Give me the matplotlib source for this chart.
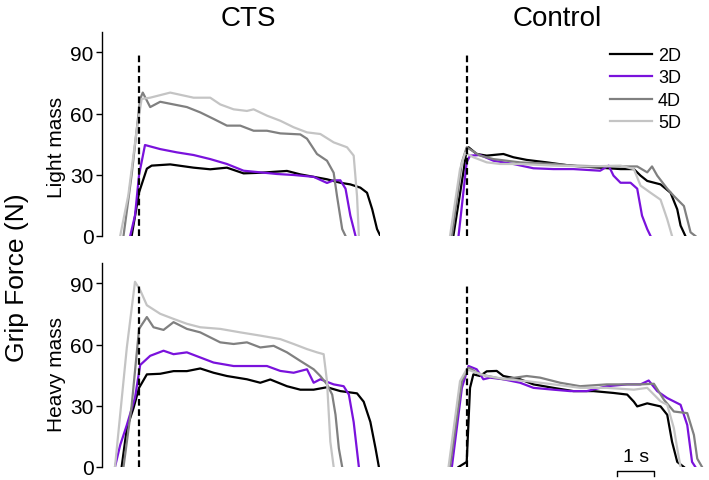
import matplotlib.pyplot as plt

plt.rcParams['font.family'] = ['Liberation Sans', 'DejaVu Sans']

labels = ['2D', '3D', '4D', '5D']
colors = ['#000000', '#7a12dc', '#808080', '#c4c4c4']

# time (s, 0 = dashed marker) and grip force (N)
# CTS, light mass
cts_light_2d_t = [-0.20, 0.00, 0.21, 0.34, 0.84, 1.47, 1.92, 2.37, 2.82, 3.27, 3.99, 4.35, 5.07, 5.43, 5.70, 5.97, 6.15, 6.29, 6.42, 6.51]
cts_light_2d_f = [0, 21.4, 33.0, 34.5, 35.1, 33.5, 32.7, 33.5, 30.7, 31.0, 31.9, 30.2, 27.8, 26.1, 25.3, 23.7, 21.2, 13.1, 3.4, 0]
cts_light_3d_t = [-0.24, -0.11, 0.00, 0.16, 0.57, 1.02, 1.47, 1.92, 2.37, 2.82, 3.27, 3.72, 4.17, 4.71, 5.07, 5.25, 5.43, 5.57, 5.70, 5.84]
cts_light_3d_f = [0, 10.0, 30.0, 44.6, 42.6, 41.0, 39.7, 37.7, 35.3, 32.0, 31.2, 30.4, 29.9, 29.0, 26.0, 27.3, 27.3, 23.2, 10.0, 0]
cts_light_4d_t = [-0.42, -0.20, 0.03, 0.10, 0.30, 0.57, 0.93, 1.29, 1.65, 2.01, 2.37, 2.73, 3.09, 3.45, 3.81, 4.35, 4.53, 4.80, 5.07, 5.25, 5.34, 5.48, 5.57]
cts_light_4d_f = [0, 30.0, 67.2, 70.3, 63.2, 65.8, 64.5, 63.2, 60.6, 57.4, 54.1, 54.1, 51.6, 51.6, 50.3, 49.8, 47.7, 40.2, 36.9, 31.0, 19.6, 3.4, 0]
cts_light_5d_t = [-0.51, -0.29, -0.06, 0.07, 0.30, 0.84, 1.47, 1.92, 2.19, 2.55, 2.91, 3.09, 3.45, 3.81, 4.17, 4.53, 4.89, 5.25, 5.61, 5.79, 5.88, 5.93]
cts_light_5d_f = [0, 20.0, 52.5, 67.2, 67.8, 70.3, 67.8, 67.8, 64.5, 62.1, 61.3, 62.1, 59.0, 56.5, 53.3, 50.8, 50.0, 45.9, 43.5, 39.4, 19.6, 0]

# Control, light mass
ctl_light_2d_t = [-0.37, -0.10, -0.01, 0.04, 0.26, 0.53, 0.98, 1.25, 1.61, 2.15, 2.78, 3.41, 4.14, 4.50, 4.68, 4.86, 5.22, 5.49, 5.67, 5.76, 5.89]
ctl_light_2d_f = [0, 31.2, 42.6, 43.5, 40.2, 39.4, 40.2, 38.6, 37.3, 36.1, 34.5, 33.7, 32.8, 32.8, 29.6, 27.0, 25.3, 21.2, 13.1, 5.1, 0]
ctl_light_3d_t = [-0.23, -0.01, 0.08, 0.35, 0.71, 1.25, 1.79, 2.33, 2.87, 3.59, 3.82, 3.95, 4.14, 4.41, 4.59, 4.72, 4.86, 4.95]
ctl_light_3d_f = [0, 36.1, 39.4, 39.7, 36.9, 35.3, 33.2, 32.8, 32.8, 32.0, 34.5, 29.6, 26.1, 26.1, 23.2, 10.0, 3.4, 0]
ctl_light_4d_t = [-0.41, -0.14, -0.01, 0.35, 0.71, 1.43, 2.33, 2.87, 3.68, 4.59, 4.86, 4.99, 5.13, 5.40, 5.58, 5.85, 6.03, 6.16]
ctl_light_4d_f = [0, 36.1, 43.5, 39.4, 37.7, 36.1, 35.3, 34.5, 34.1, 34.1, 31.2, 34.1, 29.6, 23.2, 19.6, 14.7, 1.8, 0]
ctl_light_5d_t = [-0.46, -0.19, -0.05, 0.17, 0.53, 0.89, 1.43, 2.33, 3.23, 4.14, 4.50, 4.68, 4.95, 5.22, 5.40, 5.53]
ctl_light_5d_f = [0, 32.8, 40.8, 38.6, 36.1, 35.3, 35.3, 34.5, 34.1, 34.5, 32.8, 24.7, 21.2, 17.8, 8.2, 0]

# CTS, heavy mass
cts_heavy_2d_t = [-0.47, -0.33, -0.15, 0.00, 0.21, 0.57, 0.93, 1.29, 1.65, 2.01, 2.37, 2.91, 3.27, 3.54, 3.99, 4.35, 4.71, 5.07, 5.43, 5.88, 6.06, 6.24, 6.38, 6.47]
cts_heavy_2d_f = [0, 19.0, 28.9, 38.8, 45.4, 45.7, 47.0, 47.0, 48.3, 46.2, 44.6, 43.0, 41.3, 42.9, 39.6, 37.9, 37.9, 39.1, 37.2, 36.1, 32.0, 22.1, 9.1, 0]
cts_heavy_3d_t = [-0.65, -0.51, -0.33, -0.11, 0.03, 0.30, 0.66, 0.93, 1.29, 1.65, 2.01, 2.55, 2.91, 3.45, 3.81, 4.17, 4.53, 4.71, 4.89, 5.25, 5.52, 5.66, 5.79, 5.93]
cts_heavy_3d_f = [0, 10.7, 20.6, 33.9, 50.0, 54.5, 57.0, 55.3, 56.2, 53.7, 51.2, 49.5, 49.5, 49.5, 47.1, 46.2, 47.9, 41.3, 43.0, 40.5, 39.6, 35.5, 22.0, 0]
cts_heavy_4d_t = [-0.42, -0.20, 0.00, 0.21, 0.39, 0.66, 0.93, 1.29, 1.65, 2.19, 2.55, 2.91, 3.27, 3.63, 3.99, 4.35, 4.71, 4.89, 5.07, 5.21, 5.30, 5.39, 5.48]
cts_heavy_4d_f = [0, 30.0, 67.7, 73.5, 68.5, 67.2, 71.0, 67.7, 66.0, 61.1, 60.3, 61.1, 58.6, 59.4, 56.2, 52.0, 47.9, 44.6, 40.5, 35.5, 25.6, 9.1, 0]
cts_heavy_5d_t = [-0.65, -0.33, -0.11, 0.03, 0.21, 0.57, 0.93, 1.29, 1.65, 2.19, 2.73, 3.27, 3.81, 4.17, 4.53, 4.80, 4.98, 5.07, 5.16, 5.25]
cts_heavy_5d_f = [0, 58.6, 90.8, 86.7, 79.3, 75.1, 72.6, 70.2, 68.5, 67.7, 66.0, 64.4, 62.7, 60.3, 57.8, 56.2, 55.3, 42.0, 12.4, 0]

# Control, heavy mass
ctl_heavy_2d_t = [-0.23, -0.01, 0.08, 0.17, 0.35, 0.53, 0.80, 0.98, 1.43, 1.79, 2.33, 2.87, 3.41, 3.95, 4.32, 4.50, 4.59, 4.86, 5.22, 5.40, 5.53, 5.67, 5.85]
ctl_heavy_2d_f = [0, 2.5, 38.8, 45.4, 44.6, 46.9, 47.1, 44.6, 43.0, 40.5, 38.8, 37.2, 37.2, 36.3, 35.5, 32.0, 29.7, 31.2, 29.7, 25.6, 12.4, 2.5, 0]
ctl_heavy_3d_t = [-0.41, -0.14, 0.04, 0.26, 0.44, 0.62, 0.98, 1.43, 1.79, 2.33, 2.78, 3.23, 3.77, 4.32, 4.68, 4.90, 5.13, 5.40, 5.76, 5.94, 6.07, 6.16]
ctl_heavy_3d_f = [0, 38.8, 49.5, 47.9, 43.0, 43.8, 43.0, 41.3, 38.8, 37.9, 37.2, 37.2, 39.6, 40.5, 40.5, 42.4, 37.2, 33.8, 30.5, 20.6, 2.5, 0]
ctl_heavy_4d_t = [-0.46, -0.14, 0.04, 0.35, 0.98, 1.61, 1.97, 2.51, 3.05, 3.77, 4.68, 5.04, 5.31, 5.58, 5.94, 6.12, 6.21, 6.34]
ctl_heavy_4d_f = [0, 42.1, 48.7, 45.4, 43.0, 44.6, 43.8, 41.3, 39.6, 40.5, 40.5, 40.8, 33.0, 27.2, 26.4, 15.7, 4.1, 0]
ctl_heavy_5d_t = [-0.50, -0.19, -0.01, 0.26, 0.53, 1.07, 1.61, 2.33, 3.05, 3.77, 4.50, 4.86, 5.04, 5.22, 5.40, 5.58, 5.67, 5.76]
ctl_heavy_5d_f = [0, 42.1, 47.9, 46.2, 44.6, 43.0, 42.1, 40.5, 38.8, 38.8, 37.9, 38.8, 35.5, 32.2, 30.5, 19.0, 9.1, 0]

panels = [
    [(cts_light_2d_t, cts_light_2d_f), (cts_light_3d_t, cts_light_3d_f),
     (cts_light_4d_t, cts_light_4d_f), (cts_light_5d_t, cts_light_5d_f)],
    [(ctl_light_2d_t, ctl_light_2d_f), (ctl_light_3d_t, ctl_light_3d_f),
     (ctl_light_4d_t, ctl_light_4d_f), (ctl_light_5d_t, ctl_light_5d_f)],
    [(cts_heavy_2d_t, cts_heavy_2d_f), (cts_heavy_3d_t, cts_heavy_3d_f),
     (cts_heavy_4d_t, cts_heavy_4d_f), (cts_heavy_5d_t, cts_heavy_5d_f)],
    [(ctl_heavy_2d_t, ctl_heavy_2d_f), (ctl_heavy_3d_t, ctl_heavy_3d_f),
     (ctl_heavy_4d_t, ctl_heavy_4d_f), (ctl_heavy_5d_t, ctl_heavy_5d_f)],
]

fig = plt.figure(figsize=(7.09, 4.81), dpi=100)
W, H = 709, 481
lefts = [102 / W, 430 / W]
bottoms = [1 - 237 / H, 1 - 468 / H]
aw, ah = 278 / W, 204 / H

axes = []
for i, series in enumerate(panels):
    row, col = divmod(i, 2)
    ax = fig.add_axes([lefts[col], bottoms[row], aw, ah])
    for (t, f), c, lab in zip(series, colors, labels):
        ax.plot(t, f, color=c, lw=1.6, label=lab)
    ax.vlines(0, 0, 90, colors='black', lw=1.6, linestyles=(0, (3, 1.6)))
    ax.set_xlim(-1, 6.5)
    ax.set_ylim(0, 100)
    for s in ['top', 'right', 'bottom']:
        ax.spines[s].set_visible(False)
    ax.set_xticks([])
    if col == 0:
        ax.set_yticks([0, 30, 60, 90])
        ax.tick_params(axis='y', labelsize=15, length=4, width=1, pad=2)
        ax.spines['left'].set_linewidth(1)
    else:
        ax.spines['left'].set_visible(False)
        ax.set_yticks([])
    axes.append(ax)

axes[1].legend(loc='upper left', bbox_to_anchor=(610 / W, 1 - 48 / H),
               bbox_transform=fig.transFigure, frameon=False, fontsize=13,
               handlelength=2.3, handletextpad=0.35, labelspacing=0.3,
               borderpad=0, borderaxespad=0)

# 1 s scale bar
sb = axes[3]
sb.plot([4.05, 4.05, 5.05, 5.05], [-4.5, -1.8, -1.8, -4.5], color='black', lw=1, clip_on=False)
sb.text(4.55, 1.0, '1 s', ha='center', va='bottom', fontsize=14)

fig.text(248 / W, 1 - 18.5 / H, 'CTS', ha='center', va='center', fontsize=20)
fig.text(557 / W, 1 - 18.5 / H, 'Control', ha='center', va='center', fontsize=20)
fig.text(17.5 / W, 1 - 278 / H, 'Grip Force (N)', rotation=90, ha='center', va='center', fontsize=19)
fig.text(56 / W, 1 - 147 / H, 'Light mass', rotation=90, ha='center', va='center', fontsize=15)
fig.text(56 / W, 1 - 375 / H, 'Heavy mass', rotation=90, ha='center', va='center', fontsize=15)

fig.savefig('out.png', dpi=100)
